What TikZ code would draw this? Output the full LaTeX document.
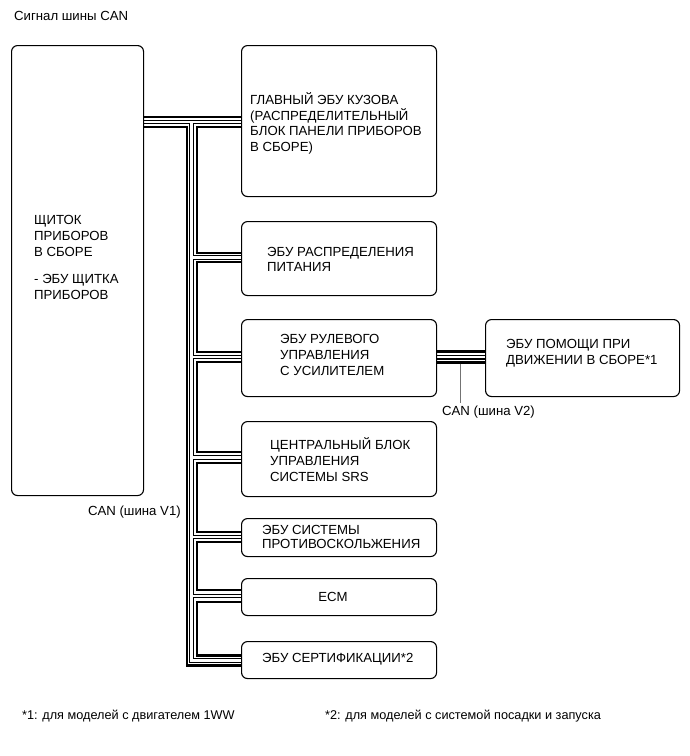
\documentclass[tikz,border=0pt]{standalone}
\usepackage{fontspec}
\setmainfont{Liberation Sans}
\usetikzlibrary{backgrounds}
\begin{document}
\begin{tikzpicture}[x=1pt,y=-1pt,
  box/.style={draw=black, line width=1.1pt, rounded corners=6pt, anchor=north west, inner sep=0pt},
  lbl/.style={font=\fontsize{13.2}{15.7}\selectfont, align=left, inner sep=0pt, anchor=west},
  blk/.style={draw=black, line width=2.6pt, line cap=butt, line join=miter},
  holout/.style={draw=black, line width=4.4pt, line cap=butt, line join=miter},
  holin/.style={draw=white, line width=2.2pt, line cap=butt, line join=miter},
  lead/.style={draw=black!55, line width=0.9pt}]
\useasboundingbox (0,0) rectangle (689,756);

% title
\node[lbl] (title) at (14,16) {Сигнал шины CAN};

% boxes
\node[box, minimum width=132pt, minimum height=450pt] (meter) at (11,45) {};
\node[box, minimum width=195pt, minimum height=151pt] (body) at (241,45) {};
\node[box, minimum width=195pt, minimum height=74pt] (pwr) at (241,221) {};
\node[box, minimum width=195pt, minimum height=77pt] (eps) at (241,319) {};
\node[box, minimum width=194pt, minimum height=77pt] (drv) at (485,319) {};
\node[box, minimum width=195pt, minimum height=75pt] (srs) at (241,421) {};
\node[box, minimum width=195pt, minimum height=38pt] (skid) at (241,518) {};
\node[box, minimum width=195pt, minimum height=37pt] (ecm) at (241,578) {};
\node[box, minimum width=195pt, minimum height=37pt] (cert) at (241,641) {};

% texts
\node[lbl] (tmeterA) at (34,236) {ЩИТОК\\ПРИБОРОВ\\В СБОРЕ};
\node[lbl] (tmeterB) at (34,287) {- ЭБУ ЩИТКА\\ПРИБОРОВ};
\node[lbl] (tbody) at (250,123.5) {ГЛАВНЫЙ ЭБУ КУЗОВА\\(РАСПРЕДЕЛИТЕЛЬНЫЙ\\БЛОК ПАНЕЛИ ПРИБОРОВ\\В СБОРЕ)};
\node[lbl] (tpwr) at (267,259.5) {ЭБУ РАСПРЕДЕЛЕНИЯ\\ПИТАНИЯ};
\node[lbl] (teps) at (280,355) {ЭБУ РУЛЕВОГО\\УПРАВЛЕНИЯ\\С УСИЛИТЕЛЕМ};
\node[lbl] (tdrv) at (506,353) {ЭБУ ПОМОЩИ ПРИ\\ДВИЖЕНИИ В СБОРЕ*1};
\node[lbl] (tsrs) at (270,459.5) {ЦЕНТРАЛЬНЫЙ БЛОК\\УПРАВЛЕНИЯ\\СИСТЕМЫ SRS};
\node[lbl, font=\fontsize{13.2}{14}\selectfont] (tskid) at (262,537) {ЭБУ СИСТЕМЫ\\ПРОТИВОСКОЛЬЖЕНИЯ};
\node[lbl, anchor=center] (tecm) at (333,596.5) {ECM};
\node[lbl] (tcert) at (262,659.5) {ЭБУ СЕРТИФИКАЦИИ*2};
\node[lbl, anchor=east] (v1) at (181,512) {CAN (шина V1)};
\node[lbl, anchor=center] (v2) at (488.5,412) {CAN (шина V2)};
\node[lbl, font=\fontsize{12.7}{15}\selectfont] (fn1) at (22,716) {*1: для моделей с двигателем 1WW};
\node[lbl, font=\fontsize{12.7}{15}\selectfont] (fn2) at (325,716) {*2: для моделей с системой посадки и запуска};

\coordinate (v2tap) at (460.7,363.6);
\coordinate (v2end) at (460.7,403);

\newcommand\hollownet[1]{%
  \draw[#1] (meter.east |- 0,122) -- (body.west |- 0,122);
  \draw[#1] (191.5,122) -- (191.5,660.5) -- (cert.west |- 0,660.5);
  \draw[#1] (191.5,257.5) -- (pwr.west |- 0,257.5);
  \draw[#1] (191.5,357) -- (eps.west |- 0,357);
  \draw[#1] (191.5,457.5) -- (srs.west |- 0,457.5);
  \draw[#1] (191.5,537) -- (skid.west |- 0,537);
  \draw[#1] (191.5,596) -- (ecm.west |- 0,596);
  \draw[#1] (eps.east |- 0,357.3) -- (drv.west |- 0,357.3);
}

\begin{pgfonlayer}{background}
  \fill[white] (0,0) rectangle (689,756);
  % black wires
  \draw[blk] (meter.east |- 0,117) -- (body.west |- 0,117);
  \draw[blk] (meter.east |- 0,127) -- (187,127) -- (187,665.5) -- (cert.west |- 0,665.5);
  \draw[blk] (body.west |- 0,127) -- (197,127) -- (197,253) -- (pwr.west |- 0,253);
  \draw[blk] (pwr.west |- 0,262) -- (197,262) -- (197,352) -- (eps.west |- 0,352);
  \draw[blk] (eps.west |- 0,362) -- (197,362) -- (197,452) -- (srs.west |- 0,452);
  \draw[blk] (srs.west |- 0,463) -- (197,463) -- (197,532) -- (skid.west |- 0,532);
  \draw[blk] (skid.west |- 0,542) -- (197,542) -- (197,590) -- (ecm.west |- 0,590);
  \draw[blk] (ecm.west |- 0,602) -- (197,602) -- (197,655.5) -- (cert.west |- 0,655.5);
  \draw[blk] (eps.east |- 0,351.7) -- (drv.west |- 0,351.7);
  \draw[blk] (eps.east |- 0,362.5) -- (drv.west |- 0,362.5);
  % hollow wires
  \hollownet{holout}
  \hollownet{holin}
  % leader
  \draw[lead] (v2tap) -- (v2end);
\end{pgfonlayer}
\end{tikzpicture}
\end{document}
